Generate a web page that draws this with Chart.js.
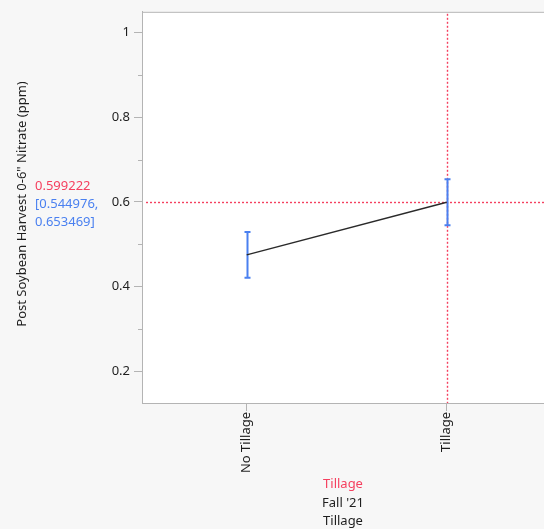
<!DOCTYPE html>
<html>
<head>
<meta charset="utf-8">
<script src="https://cdn.jsdelivr.net/npm/chart.js@4/dist/chart.umd.min.js"></script>
<style>
  html, body { margin: 0; padding: 0; background: #f7f7f7; }
  #wrap { width: 544px; height: 529px; position: relative; }
</style>
</head>
<body>
<div id="wrap"><canvas id="c" width="544" height="529"></canvas></div>
<script>
// Factor levels and profiler values
const categories = ['No Tillage', 'Tillage'];
const means = [0.4748, 0.599222];
const lowerCI = [0.4206, 0.544976];
const upperCI = [0.5290, 0.653469];
const majorTicks = [0.2, 0.4, 0.6, 0.8, 1];
const minorTicks = [0.3, 0.5, 0.7, 0.9];
const currentLevel = 1;               // index of the selected factor level
const yTitle = 'Post Soybean Harvest 0-6" Nitrate (ppm)';
const xTitleLines = ['Tillage', "Fall '21", 'Tillage'];

const FONT = '"Noto Sans", "Open Sans", sans-serif';
const FSIZE = 13;
const RED = '#f5405f';
const BLUE = '#4a80f0';
const AXIS = '#b4b4b4';

const fmt = v => v.toFixed(6).replace(/0+$/, '');

const profilerPlugin = {
  id: 'profiler',
  beforeDraw(chart) {
    const { ctx, chartArea: a } = chart;
    ctx.save();
    ctx.fillStyle = '#ffffff';
    ctx.fillRect(a.left, a.top, a.right - a.left, a.bottom - a.top);
    ctx.restore();
  },
  afterDatasetsDraw(chart) {
    const { ctx, chartArea: a, scales: { x, y } } = chart;
    ctx.save();

    // frame top edge
    ctx.strokeStyle = AXIS;
    ctx.lineWidth = 1;
    ctx.beginPath();
    ctx.moveTo(a.left, a.top + 0.5);
    ctx.lineTo(a.right, a.top + 0.5);
    ctx.stroke();

    // minor ticks on the y axis
    minorTicks.forEach(v => {
      const py = Math.round(y.getPixelForValue(v)) + 0.5;
      ctx.beginPath();
      ctx.moveTo(a.left - 4, py);
      ctx.lineTo(a.left, py);
      ctx.stroke();
    });

    // crosshair at the current setting
    ctx.strokeStyle = RED;
    ctx.lineWidth = 1.4;
    ctx.setLineDash([2, 2]);
    const hy = Math.round(y.getPixelForValue(means[currentLevel])) + 0.5;
    ctx.beginPath();
    ctx.moveTo(a.left + 4, hy);
    ctx.lineTo(a.right, hy);
    ctx.stroke();
    const vx = Math.round(x.getPixelForValue(currentLevel)) + 0.5;
    ctx.beginPath();
    ctx.moveTo(vx, a.top + 2);
    ctx.lineTo(vx, a.bottom);
    ctx.stroke();
    ctx.setLineDash([]);

    // confidence interval bars
    ctx.strokeStyle = BLUE;
    ctx.lineWidth = 2;
    categories.forEach((_, i) => {
      const px = Math.round(x.getPixelForValue(i)) + 0.5;
      const top = y.getPixelForValue(upperCI[i]);
      const bot = y.getPixelForValue(lowerCI[i]);
      ctx.beginPath();
      ctx.moveTo(px, top);
      ctx.lineTo(px, bot);
      ctx.moveTo(px - 3, top);
      ctx.lineTo(px + 3, top);
      ctx.moveTo(px - 3, bot);
      ctx.lineTo(px + 3, bot);
      ctx.stroke();
    });

    // profile line on top
    ctx.strokeStyle = '#2a2a2a';
    ctx.lineWidth = 1.4;
    ctx.beginPath();
    categories.forEach((_, i) => {
      const px = x.getPixelForValue(i), py = y.getPixelForValue(means[i]);
      if (i === 0) ctx.moveTo(px, py); else ctx.lineTo(px, py);
    });
    ctx.stroke();
    ctx.restore();
  },
  afterDraw(chart) {
    const { ctx } = chart;
    ctx.save();
    ctx.font = FSIZE + 'px ' + FONT;
    ctx.textBaseline = 'middle';

    // y axis title
    ctx.save();
    ctx.translate(22, 204);
    ctx.rotate(-Math.PI / 2);
    ctx.textAlign = 'center';
    ctx.fillStyle = '#1e1e1e';
    ctx.fillText(yTitle, 0, 0);
    ctx.restore();

    // current prediction and interval
    ctx.textAlign = 'left';
    ctx.fillStyle = RED;
    ctx.fillText(fmt(means[currentLevel]), 35, 186);
    ctx.fillStyle = BLUE;
    ctx.fillText('[' + fmt(lowerCI[currentLevel]) + ',', 35, 204);
    ctx.fillText(fmt(upperCI[currentLevel]) + ']', 35, 222);

    // factor title block
    ctx.textAlign = 'center';
    const cx = 343;
    ctx.fillStyle = RED;
    ctx.fillText(xTitleLines[0], cx, 484);
    ctx.fillStyle = '#1e1e1e';
    ctx.fillText(xTitleLines[1], cx, 503);
    ctx.fillText(xTitleLines[2], cx, 521);
    ctx.restore();
  }
};

new Chart(document.getElementById('c'), {
  type: 'scatter',
  data: {
    datasets: [{
      data: categories.map((_, i) => ({ x: i, y: means[i] })),
      showLine: false,
      pointRadius: 0,
      borderColor: 'transparent'
    }]
  },
  options: {
    responsive: false,
    animation: false,
    events: [],
    layout: { padding: { top: 9, left: 0, right: 0, bottom: 0 } },
    plugins: { legend: { display: false }, tooltip: { enabled: false } },
    scales: {
      x: {
        type: 'linear',
        min: -0.5235,
        max: 1.4865,
        afterBuildTicks: s => { s.ticks = categories.map((_, i) => ({ value: i })); },
        afterFit: s => { s.height = 126; },
        ticks: {
          callback: (v) => categories[v],
          minRotation: 90,
          maxRotation: 90,
          padding: 1,
          color: '#1e1e1e',
          font: { family: FONT, size: FSIZE }
        },
        grid: { drawOnChartArea: false, tickLength: 8, color: AXIS },
        border: { color: AXIS, width: 1 }
      },
      y: {
        type: 'linear',
        min: 0.1249,
        max: 1.049,
        afterBuildTicks: s => { s.ticks = majorTicks.map(v => ({ value: v })); },
        afterFit: s => { s.width = 142; },
        ticks: {
          callback: v => String(+v.toFixed(1)),
          padding: 4,
          color: '#1e1e1e',
          font: { family: FONT, size: FSIZE }
        },
        grid: { drawOnChartArea: false, tickLength: 8, color: AXIS },
        border: { color: AXIS, width: 1 }
      }
    }
  },
  plugins: [profilerPlugin]
});
</script>
</body>
</html>
